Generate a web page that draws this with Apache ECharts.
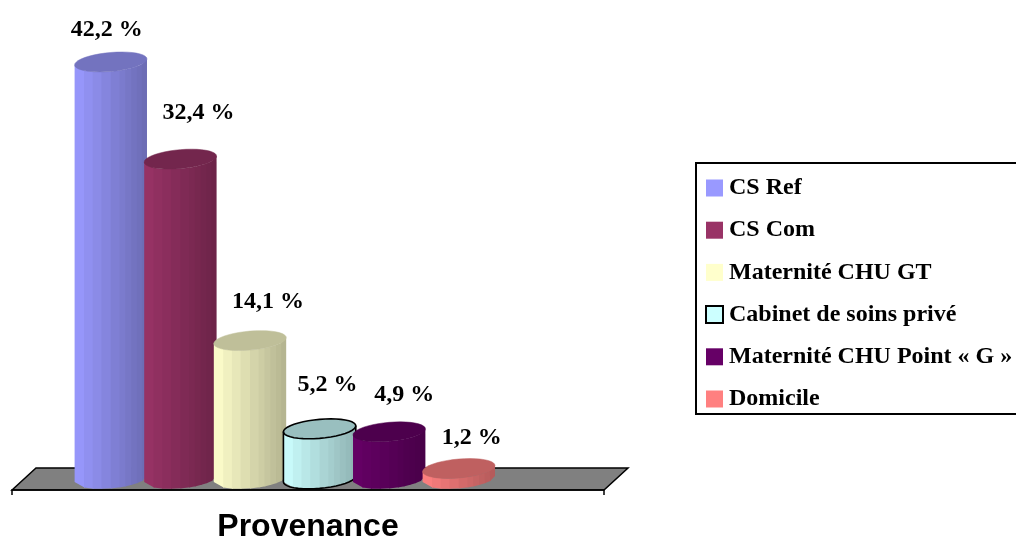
<!DOCTYPE html>
<html>
<head>
<meta charset="utf-8">
<style>html,body{margin:0;padding:0;background:#fff}#chart{width:1016px;height:536px;overflow:hidden}</style>
<script src="https://cdn.jsdelivr.net/npm/echarts@6/dist/echarts.min.js"></script>
</head>
<body>
<div id="chart"></div>
<script>
// Share of births by place of origin
const categories = ['CS Ref', 'CS Com', 'Maternité CHU GT', 'Cabinet de soins privé', 'Maternité CHU Point « G »', 'Domicile'];
const values = [42.2, 32.4, 14.1, 5.2, 4.9, 1.2];

// Appearance of each cylinder and its label
const colors = ['#9999FF', '#993366', '#FFFFCC', '#CCFFFF', '#660066', '#FF8080'];
const outlines = [null, null, null, '#000000', null, null];
const labelShift = [[-4, -32], [18, -46], [18, -39], [8, -44], [15, -37], [13, -31]];

const SERIF = '"Liberation Serif", serif';
// Facet edges across the cylinder, as fractions of its width: broad on the lit side, fine on the shaded side
const facets = [0, 0.13, 0.25, 0.37, 0.5, 0.62, 0.7, 0.78, 0.86, 0.93, 1];
const TILT = 3;        // how far the right rim rises above the left rim
const RIM = 9.5;       // half height of the elliptical rim
const BASE_LIFT = 1.5; // the foot of each cylinder sits slightly behind the floor edge

function shade(hex, k) {
  const n = parseInt(hex.slice(1), 16);
  const c = [n >> 16, (n >> 8) & 255, n & 255].map(v => Math.round(v * k));
  return `rgb(${c[0]},${c[1]},${c[2]})`;
}

// Point on the rim of a cylinder; t = 0 is the right end, t = PI the left end,
// positive sin(t) is the side facing the viewer.
function rim(cx, cy, a, t) {
  return [cx + a * Math.cos(t), cy - TILT * Math.cos(t) + RIM * Math.sin(t)];
}

const facetAngle = f => Math.acos(Math.max(-1, Math.min(1, 2 * f - 1)));

function cylinder(index) {
  return function (params, api) {
    const top = api.coord([api.value(0), api.value(1)]);
    const footY = api.coord([api.value(0), 0])[1] - BASE_LIFT;
    const a = api.size([1, 0])[0] * 1.04 / 2;
    const color = colors[index];
    const children = [];

    for (let i = 0; i < facets.length - 1; i++) {
      // Each facet runs slightly under the next one so no seam shows between them
      const t0 = facetAngle(facets[i]);
      const t1 = facetAngle(facets[i + 1] + 0.012);
      const mid = (facets[i] + facets[i + 1]) / 2;
      children.push({
        type: 'polygon',
        shape: { points: [rim(top[0], top[1], a, t0), rim(top[0], top[1], a, t1), rim(top[0], footY, a, t1), rim(top[0], footY, a, t0)] },
        style: { fill: shade(color, 1 - 0.3 * mid) }
      });
    }

    const cap = [];
    for (let i = 0; i < 40; i++) cap.push(rim(top[0], top[1], a, Math.PI * 2 * i / 40));
    const edge = outlines[index];
    children.push({
      type: 'polygon',
      shape: { points: cap },
      style: { fill: shade(color, 0.75), stroke: edge || shade(color, 0.75), lineWidth: edge ? 1.6 : 0.5 }
    });

    if (edge) {
      const wall = [];
      for (let i = 0; i <= 20; i++) wall.push(rim(top[0], footY, a, Math.PI * i / 20));
      wall.push(rim(top[0], top[1], a, Math.PI));
      wall.unshift(rim(top[0], top[1], a, 0));
      children.push({
        type: 'polyline',
        shape: { points: wall },
        style: { fill: null, stroke: edge, lineWidth: 1.6 }
      });
    }

    const shift = labelShift[index];
    children.push({
      type: 'text',
      style: {
        text: api.value(1).toFixed(1).replace('.', ',') + ' %',
        x: top[0] + shift[0],
        y: top[1] + shift[1],
        align: 'center',
        verticalAlign: 'middle',
        font: 'bold 24px ' + SERIF,
        fill: '#000'
      }
    });
    return { type: 'group', children };
  };
}

const chart = echarts.init(document.getElementById('chart'), null, { renderer: 'canvas' });

// Floor outline of the plot
const floor = {
  frontLeft: 12, frontRight: 604, frontY: 490, backLeft: 36, backRight: 628, backY: 468, tick: 5
};

chart.setOption({
  animation: false,
  backgroundColor: '#ffffff',
  title: {
    text: 'Provenance',
    left: 308,
    top: 509,
    textAlign: 'center',
    padding: 0,
    textStyle: { fontFamily: '"Liberation Sans", sans-serif', fontWeight: 'bold', fontSize: 32, color: '#000', lineHeight: 36 }
  },
  legend: {
    orient: 'vertical',
    left: 696,
    top: 163,
    padding: [12, 60, 2, 9],
    backgroundColor: '#fff',
    borderColor: '#000',
    borderWidth: 2,
    itemWidth: 17,
    itemHeight: 17,
    itemGap: 16.2,
    selectedMode: false,
    textStyle: { fontFamily: SERIF, fontWeight: 'bold', fontSize: 24, lineHeight: 24, color: '#000', padding: [2, 0, 0, 1] },
    data: categories.map((name, i) => ({
      name,
      icon: 'rect',
      itemStyle: { color: colors[i], borderColor: outlines[i] || colors[i], borderWidth: outlines[i] ? 2 : 0 }
    }))
  },
  grid: { left: 76, width: 417.6, top: 34.2, height: 446.2 },
  xAxis: { type: 'category', data: categories, show: false },
  yAxis: { type: 'value', min: 0, max: 45, show: false },
  graphic: [
    {
      type: 'polygon',
      z: 0,
      shape: { points: [[floor.frontLeft, floor.frontY], [floor.backLeft, floor.backY], [floor.backRight, floor.backY], [floor.frontRight, floor.frontY]] },
      style: { fill: '#808080', stroke: '#000', lineWidth: 1.5 }
    },
    {
      type: 'polyline',
      z: 0,
      shape: { points: [[floor.frontLeft, floor.frontY + floor.tick], [floor.frontLeft, floor.frontY], [floor.frontRight, floor.frontY], [floor.frontRight, floor.frontY + floor.tick]] },
      style: { fill: null, stroke: '#000', lineWidth: 1.5 }
    }
  ],
  series: categories.map((name, i) => ({
    name,
    type: 'custom',
    z: 2 + i,
    clip: false,
    coordinateSystem: 'cartesian2d',
    renderItem: cylinder(i),
    encode: { x: 0, y: 1 },
    data: [[i, values[i]]]
  }))
});
</script>
</body>
</html>
